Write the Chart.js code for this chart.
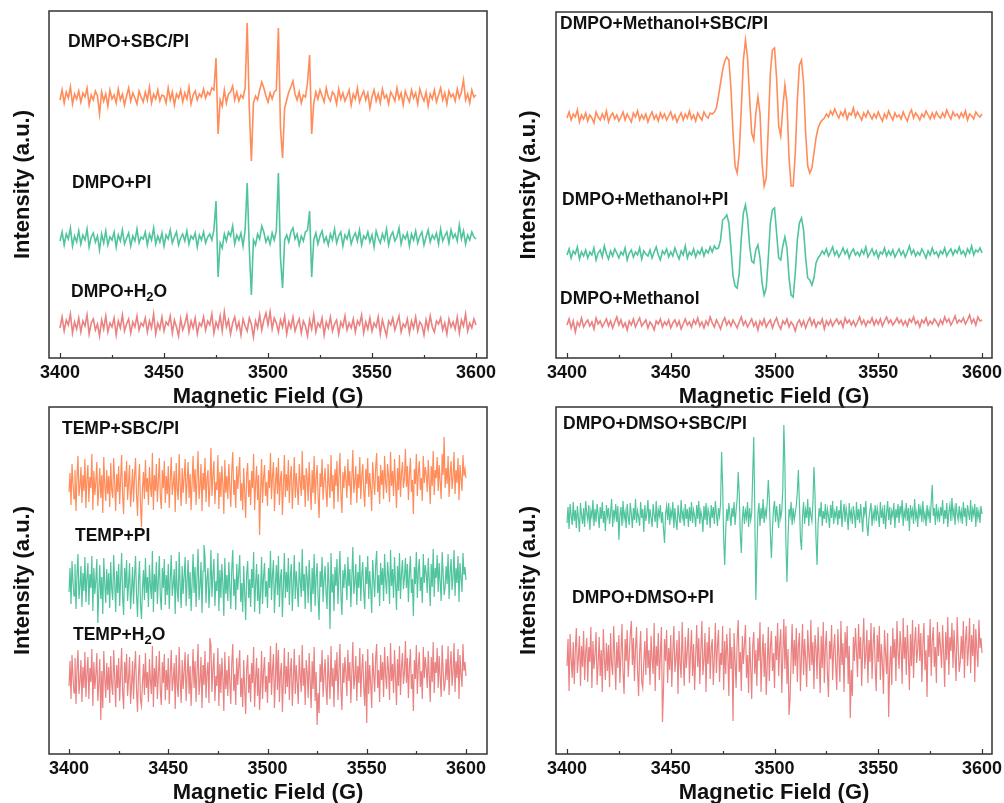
<!DOCTYPE html>
<html lang="en">
<head>
<meta charset="UTF-8">
<title>EPR spectra</title>
<script src="https://cdn.jsdelivr.net/npm/chart.js"></script>
<style>
  html, body { margin: 0; padding: 0; background: #fff; overflow: hidden; }
  body { width: 1004px; height: 803px; position: relative; }
  canvas { position: absolute; }
</style>
</head>
<body>
<canvas id="tl" width="500" height="410" style="left:0;top:0"></canvas>
<canvas id="tr" width="504" height="410" style="left:500px;top:0"></canvas>
<canvas id="bl" width="500" height="406" style="left:0;top:400px"></canvas>
<canvas id="br" width="504" height="406" style="left:500px;top:400px"></canvas>
<script>
// field axis: spectra start at 3400 G; top panels every 1 G, bottom panels every 0.5 G
const fieldStart = 3400;
const xTicks = [3400, 3450, 3500, 3550, 3600];
const xMinorTicks = [3425, 3475, 3525, 3575];

// ---- top left (201 points, 1 G) ----
const dmpoSbcPi = [
  258, 268, 255, 266, 260, 271, 254, 264, 259, 267,
  256, 265, 261, 270, 253, 263, 258, 267, 262, 244,
  266, 257, 264, 252, 268, 259, 263, 255, 269, 258,
  264, 253, 262, 270, 257, 265, 260, 254, 267, 261,
  256, 266, 258, 271, 255, 264, 259, 268, 257, 263,
  262, 255, 270, 258, 266, 253, 264, 260, 268, 256,
  265, 259, 271, 254, 263, 267, 258, 264, 261, 269,
  260, 266, 263, 270, 268, 300, 224, 258, 252, 268,
  255, 264, 266, 272, 258, 266, 257, 263, 260, 270,
  335, 250, 197, 255, 262, 258, 268, 276, 270, 262,
  256, 265, 259, 266, 268, 330, 230, 200, 250, 258,
  266, 271, 277, 264, 258, 266, 255, 263, 261, 275,
  303, 224, 255, 266, 259, 268, 262, 256, 270, 261,
  257, 266, 263, 254, 269, 259, 265, 257, 262, 268,
  253, 264, 259, 270, 256, 262, 267, 258, 265, 250,
  261, 268, 257, 264, 255, 269, 260, 263, 254, 266,
  262, 257, 270, 259, 265, 253, 267, 261, 256, 268,
  260, 265, 254, 269, 262, 257, 266, 252, 264, 259,
  268, 256, 263, 270, 258, 265, 254, 267, 261, 264,
  257, 269, 260, 266, 278, 258, 264, 255, 268, 261,
  263
];
const dmpoPi = [
  117, 126, 113, 124, 119, 130, 112, 122, 116, 127,
  114, 123, 118, 129, 111, 121, 125, 116, 122, 108,
  124, 115, 127, 113, 121, 118, 126, 111, 123, 117,
  128, 114, 120, 125, 112, 122, 117, 129, 115, 121,
  119, 126, 113, 124, 118, 130, 114, 122, 116, 125,
  112, 123, 119, 128, 115, 121, 126, 113, 120, 124,
  117, 127, 114, 122, 119, 125, 111, 123, 118, 126,
  115, 121, 124, 118, 128, 157, 81, 115, 110, 124,
  117, 126, 122, 132, 114, 123, 118, 125, 112, 128,
  175, 110, 63, 118, 113, 124, 119, 132, 126, 116,
  121, 114, 125, 118, 127, 185, 100, 70, 118, 123,
  116, 126, 130, 119, 124, 113, 122, 117, 126, 128,
  147, 81, 118, 125, 114, 122, 127, 116, 121, 113,
  124, 118, 129, 115, 122, 126, 112, 123, 119, 127,
  114, 121, 125, 117, 128, 113, 122, 119, 126, 116,
  123, 111, 127, 120, 115, 124, 118, 129, 113, 122,
  126, 117, 121, 130, 114, 123, 119, 125, 112, 124,
  118, 127, 115, 122, 126, 113, 121, 128, 116, 123,
  119, 125, 114, 129, 117, 122, 126, 115, 128, 120,
  124, 117, 133, 119, 127, 114, 123, 118, 126, 121,
  119
];
const dmpoH2o = [
  30, 41, 27, 38, 33, 44, 25, 36, 29, 40,
  26, 37, 32, 43, 24, 35, 39, 28, 34, 22,
  38, 29, 42, 26, 35, 31, 40, 23, 37, 30,
  43, 27, 34, 39, 25, 36, 31, 42, 28, 35,
  32, 40, 26, 37, 30, 44, 24, 35, 29, 41,
  27, 36, 33, 42, 25, 38, 31, 22, 39, 28,
  34, 43, 26, 37, 30, 40, 24, 35, 32, 41,
  28, 37, 33, 44, 25, 36, 30, 42, 27, 46,
  31, 38, 24, 35, 41, 29, 36, 23, 39, 32,
  27, 40, 34, 21, 37, 30, 43, 28, 38, 45,
  33, 46, 29, 40, 35, 26, 38, 31, 42, 24,
  36, 30, 41, 27, 34, 39, 25, 37, 32, 22,
  38, 29, 43, 26, 35, 31, 40, 23, 36, 30,
  41, 27, 34, 38, 24, 36, 31, 42, 28, 35,
  30, 39, 26, 37, 33, 43, 25, 36, 29, 40,
  27, 35, 31, 41, 24, 38, 30, 22, 37, 33,
  40, 28, 35, 42, 26, 34, 31, 39, 25, 37,
  30, 41, 27, 36, 33, 23, 38, 29, 42, 31,
  26, 37, 34, 40, 28, 35, 24, 39, 31, 36,
  29, 41, 25, 38, 32, 44, 27, 35, 30, 39,
  33
];

// ---- top right (201 points, 1 G) ----
const methSbcPi = [
  240, 246, 238, 244, 241, 248, 236, 243, 239, 245,
  237, 243, 240, 235, 246, 241, 238, 244, 239, 247,
  236, 242, 245, 239, 243, 237, 241, 246, 238, 244,
  240, 236, 245, 241, 247, 238, 243, 239, 244, 236,
  242, 246, 239, 243, 237, 245, 240, 244, 238, 242,
  246, 239, 243, 236, 241, 245, 238, 244, 240, 247,
  239, 243, 237, 245, 241, 238, 246, 242, 240, 245,
  244, 246, 250, 262, 275, 288, 297, 301, 298, 270,
  225, 192, 185, 205, 250, 298, 318, 300, 260, 225,
  218, 245, 261, 245, 195, 172, 180, 230, 285, 308,
  310, 280, 232, 222, 250, 273, 255, 200, 172, 172,
  205, 258, 293, 298, 275, 225, 192, 185, 190, 205,
  220, 230, 235, 238, 240, 244, 241, 247, 243, 249,
  244, 240, 246, 242, 248, 239, 245, 243, 250, 241,
  246, 242, 238, 245, 241, 247, 243, 239, 244, 240,
  246, 241, 237, 244, 240, 247, 242, 238, 245, 241,
  243, 239, 246, 241, 237, 244, 248, 240, 245, 242,
  238, 244, 241, 247, 243, 239, 245, 240, 246, 242,
  240, 245, 241, 248, 243, 239, 246, 242, 244, 240,
  245, 241, 247, 238, 244, 242, 239, 246, 243, 241,
  244
];
const methPi = [
  103, 109, 100, 107, 104, 111, 99, 106, 102, 108,
  100, 106, 103, 110, 98, 105, 108, 101, 112, 104,
  99, 107, 102, 109, 105, 100, 106, 103, 110, 98,
  105, 108, 101, 106, 103, 110, 99, 107, 104, 102,
  108, 100, 106, 111, 103, 98, 107, 104, 109, 101,
  106, 102, 110, 104, 99, 107, 103, 112, 100, 106,
  103, 109, 101, 107, 104, 110, 102, 108, 105, 111,
  106, 112, 109, 110, 118, 138, 140, 143, 135, 110,
  82, 72, 70, 85, 120, 145, 153, 140, 112, 97,
  95, 108, 113, 100, 75, 63, 70, 100, 135, 148,
  150, 125, 100, 98, 112, 121, 110, 80, 63, 61,
  85, 118, 135, 140, 128, 100, 80, 78, 73, 80,
  95, 100, 103, 107, 104, 109, 102, 106, 111, 103,
  107, 101, 105, 110, 104, 108, 100, 106, 109, 103,
  106, 102, 108, 104, 111, 101, 105, 109, 103, 107,
  100, 106, 104, 110, 102, 107, 103, 108, 101, 105,
  109, 103, 107, 101, 106, 112, 104, 108, 102, 106,
  103, 109, 105, 100, 107, 103, 110, 104, 106, 101,
  107, 104, 110, 102, 106, 109, 103, 108, 105, 111,
  104, 107, 102, 109, 105, 112, 103, 108, 106, 110,
  105
];
const methOnly = [
  33, 39, 30, 37, 26, 36, 32, 40, 31, 35,
  38, 32, 36, 29, 40, 34, 37, 31, 35, 39,
  32, 37, 30, 36, 41, 33, 38, 31, 35, 28,
  37, 33, 39, 31, 36, 40, 32, 35, 38, 30,
  36, 33, 28, 37, 34, 39, 31, 36, 33, 38,
  30, 35, 38, 32, 37, 29, 34, 39, 33, 36,
  31, 38, 34, 40, 32, 36, 30, 37, 33, 41,
  35, 31, 38, 34, 29, 36, 40, 33, 37, 32,
  38, 34, 30, 36, 41, 33, 37, 31, 35, 39,
  32, 36, 28, 37, 33, 39, 31, 35, 38, 30,
  36, 40, 33, 29, 37, 34, 39, 31, 36, 33,
  27, 35, 38, 32, 37, 30, 36, 40, 33, 38,
  31, 36, 34, 39, 29, 37, 33, 38, 32, 36,
  39, 34, 37, 31, 40, 35, 38, 33, 37, 32,
  36, 41, 34, 38, 32, 37, 35, 40, 33, 38,
  34, 39, 32, 37, 41, 35, 38, 33, 36, 40,
  35, 38, 33, 37, 32, 39, 36, 41, 34, 37,
  31, 38, 35, 40, 33, 37, 34, 39, 36, 32,
  38, 34, 41, 36, 39, 33, 37, 42, 35, 38,
  36, 40, 34, 38, 43, 35, 39, 33, 41, 37,
  38
];

// ---- bottom left (401 points, 0.5 G) ----
const tempSbcPi = [
  262, 281, 249, 290, 270, 255, 284, 243, 276, 298, 258, 268, 287, 251, 279, 263, 295, 246, 274, 289,
  252, 277, 266, 300, 244, 283, 259, 272, 292, 248, 265, 286, 256, 279, 241, 297, 269, 253, 284, 260,
  278, 247, 291, 264, 256, 296, 271, 243, 280, 262, 288, 250, 275, 299, 258, 240, 283, 267, 293, 254,
  271, 289, 247, 265, 285, 252, 278, 296, 260, 238, 273, 290, 250, 227, 266, 282, 255, 294, 262, 276,
  249, 287, 268, 257, 301, 244, 279, 263, 290, 252, 272, 296, 258, 245, 284, 266, 293, 251, 278, 260,
  288, 246, 274, 297, 259, 270, 283, 242, 291, 265, 254, 300, 268, 248, 286, 261, 277, 295, 250, 273,
  292, 256, 280, 244, 271, 298, 262, 285, 249, 276, 303, 255, 268, 290, 243, 281, 264, 296, 252, 275,
  284, 247, 269, 306, 258, 279, 293, 250, 272, 264, 299, 245, 282, 257, 288, 270, 240, 294, 261, 278,
  255, 290, 267, 247, 283, 302, 259, 274, 246, 288, 265, 280, 297, 253, 271, 244, 286, 262, 236, 279,
  291, 257, 274, 249, 283, 266, 300, 244, 270, 288, 254, 279, 219, 262, 295, 251, 276, 289, 258, 272,
  248, 284, 266, 301, 255, 278, 292, 243, 270, 287, 260, 296, 249, 275, 283, 239, 268, 299, 257, 280,
  263, 294, 251, 277, 288, 245, 270, 297, 256, 281, 266, 249, 290, 272, 258, 303, 264, 279, 247, 286,
  275, 253, 292, 268, 244, 284, 261, 298, 250, 276, 289, 257, 236, 281, 267, 295, 254, 273, 286, 262,
  247, 290, 270, 256, 299, 263, 279, 245, 285, 268, 293, 252, 277, 301, 259, 241, 282, 266, 288, 274,
  256, 295, 268, 283, 249, 276, 304, 261, 272, 288, 251, 280, 266, 297, 255, 278, 290, 263, 247, 285,
  270, 296, 257, 281, 265, 243, 292, 274, 259, 287, 301, 262, 278, 250, 289, 269, 284, 255, 298, 273,
  261, 290, 277, 252, 302, 268, 283, 258, 295, 271, 246, 286, 264, 299, 257, 280, 292, 266, 276, 305,
  267, 288, 254, 279, 296, 262, 274, 240, 285, 270, 300, 258, 281, 293, 264, 276, 253, 298, 271, 287,
  279, 262, 294, 273, 250, 288, 268, 303, 259, 284, 276, 297, 263, 289, 272, 255, 300, 279, 317, 266,
  286, 270, 298, 257, 281, 293, 265, 277, 302, 260, 284, 271, 296, 254, 289, 275, 263, 299, 278, 285,
  276
];
const tempPi = [
  162, 186, 150, 193, 171, 158, 190, 145, 179, 200, 155, 168, 188, 147, 181, 163, 197, 152, 176, 191,
  149, 180, 166, 198, 143, 186, 160, 174, 195, 131, 164, 189, 155, 177, 140, 196, 170, 151, 185, 159,
  181, 146, 192, 165, 154, 199, 172, 142, 183, 161, 190, 148, 175, 201, 157, 139, 186, 166, 194, 153,
  171, 191, 145, 164, 187, 150, 178, 198, 159, 137, 173, 193, 149, 135, 166, 184, 154, 196, 161, 177,
  147, 189, 168, 155, 203, 142, 180, 162, 192, 150, 173, 198, 157, 144, 186, 166, 195, 149, 179, 159,
  190, 145, 175, 199, 158, 170, 185, 140, 193, 164, 152, 202, 168, 146, 188, 160, 178, 197, 148, 174,
  194, 155, 182, 143, 171, 200, 161, 187, 147, 177, 205, 154, 168, 192, 141, 183, 209, 198, 151, 176,
  186, 146, 169, 204, 157, 180, 195, 148, 173, 163, 201, 143, 184, 156, 190, 170, 138, 196, 160, 179,
  153, 192, 167, 145, 185, 204, 158, 175, 144, 190, 164, 181, 199, 152, 171, 142, 188, 161, 134, 180,
  193, 156, 175, 147, 185, 166, 202, 142, 170, 190, 153, 180, 140, 161, 197, 150, 177, 191, 157, 173,
  146, 186, 166, 203, 154, 179, 194, 141, 170, 189, 159, 198, 147, 176, 185, 137, 168, 201, 156, 182,
  162, 196, 149, 178, 190, 143, 170, 199, 155, 183, 166, 147, 192, 173, 157, 205, 163, 180, 145, 188,
  176, 151, 194, 168, 142, 186, 160, 200, 148, 177, 191, 156, 134, 183, 167, 197, 152, 174, 188, 161,
  145, 192, 170, 125, 201, 162, 180, 143, 187, 168, 195, 150, 178, 203, 158, 139, 184, 166, 190, 175,
  154, 197, 168, 185, 147, 177, 207, 160, 172, 190, 149, 182, 166, 199, 153, 179, 192, 162, 145, 187,
  170, 198, 155, 183, 165, 141, 194, 175, 157, 189, 203, 161, 179, 148, 191, 169, 186, 153, 200, 174,
  160, 192, 178, 150, 204, 168, 185, 156, 197, 171, 144, 188, 163, 201, 155, 181, 194, 165, 177, 196,
  166, 190, 152, 180, 198, 161, 175, 138, 187, 170, 202, 156, 183, 195, 163, 177, 151, 200, 171, 189,
  180, 161, 196, 173, 148, 190, 167, 205, 157, 186, 176, 199, 162, 191, 172, 153, 202, 180, 159, 167,
  188, 170, 200, 155, 182, 195, 164, 178, 204, 158, 186, 171, 198, 152, 191, 176, 162, 201, 179, 187,
  174
];
const tempH2o = [
  68, 93, 55, 99, 77, 61, 96, 50, 85, 104, 60, 73, 94, 52, 87, 66, 102, 57, 81, 97,
  55, 86, 72, 105, 48, 92, 65, 79, 101, 53, 70, 95, 34, 83, 46, 103, 76, 56, 91, 64,
  87, 51, 98, 70, 59, 104, 77, 47, 89, 66, 96, 53, 80, 106, 62, 45, 92, 71, 100, 58,
  76, 97, 50, 69, 93, 55, 84, 103, 64, 42, 79, 99, 54, 48, 71, 90, 59, 101, 66, 82,
  52, 95, 73, 60, 108, 47, 86, 67, 98, 55, 78, 103, 62, 49, 92, 71, 100, 54, 84, 64,
  96, 50, 80, 104, 63, 75, 91, 45, 99, 69, 57, 107, 73, 51, 94, 65, 83, 102, 53, 79,
  100, 60, 88, 48, 76, 105, 66, 93, 52, 82, 110, 59, 73, 97, 46, 89, 69, 103, 56, 81,
  92, 51, 116, 109, 62, 85, 101, 53, 78, 68, 106, 48, 90, 61, 96, 75, 43, 102, 65, 84,
  58, 98, 72, 50, 91, 110, 63, 80, 49, 96, 69, 87, 104, 57, 76, 47, 94, 66, 40, 85,
  99, 61, 80, 52, 91, 71, 107, 47, 75, 96, 58, 86, 44, 67, 103, 55, 82, 97, 62, 78,
  51, 92, 71, 108, 59, 84, 100, 46, 75, 111, 64, 104, 52, 81, 91, 42, 73, 106, 60, 88,
  67, 102, 54, 83, 96, 48, 75, 105, 60, 89, 71, 50, 99, 78, 62, 109, 68, 86, 49, 94,
  81, 56, 101, 73, 46, 93, 65, 107, 53, 82, 29, 61, 41, 90, 72, 104, 57, 79, 95, 66,
  49, 99, 76, 55, 108, 68, 86, 47, 94, 73, 102, 54, 83, 110, 63, 44, 91, 71, 97, 80,
  58, 104, 73, 92, 51, 82, 112, 65, 77, 98, 53, 88, 71, 106, 57, 84, 100, 67, 48, 93,
  31, 105, 60, 89, 70, 46, 101, 80, 62, 96, 110, 66, 84, 52, 99, 74, 92, 57, 107, 79,
  65, 98, 83, 54, 111, 73, 90, 61, 104, 77, 49, 95, 68, 108, 59, 86, 101, 70, 82, 113,
  71, 96, 56, 86, 105, 65, 80, 43, 94, 75, 109, 60, 88, 102, 67, 83, 55, 107, 76, 97,
  85, 66, 103, 78, 52, 97, 72, 112, 61, 92, 81, 106, 66, 98, 77, 57, 109, 84, 63, 71,
  95, 74, 108, 59, 89, 103, 68, 83, 111, 62, 93, 76, 105, 55, 99, 80, 67, 110, 83, 92,
  78
];

// ---- bottom right (401 points, 0.5 G) ----
const dmsoSbcPi = [
  231, 247, 225, 250, 238, 229, 252, 233, 244, 226, 248, 236, 222, 251, 239, 230, 246, 227, 253, 241,
  234, 249, 224, 243, 237, 254, 228, 245, 232, 250, 240, 226, 247, 235, 252, 231, 243, 223, 249, 238,
  246, 230, 241, 255, 227, 244, 236, 250, 232, 248, 214, 239, 247, 228, 253, 235, 242, 226, 250, 237,
  229, 251, 240, 226, 246, 234, 255, 231, 243, 237, 228, 252, 236, 245, 222, 249, 233, 241, 254, 230,
  245, 236, 227, 250, 239, 232, 253, 226, 244, 238, 249, 231, 242, 225, 211, 240, 248, 234, 251, 229,
  243, 237, 252, 226, 246, 233, 224, 249, 238, 231, 254, 236, 242, 228, 250, 235, 245, 227, 247, 233,
  252, 231, 244, 238, 227, 249, 235, 253, 230, 243, 237, 222, 248, 234, 251, 229, 245, 240, 226, 249,
  236, 247, 230, 253, 240, 228, 246, 238, 250, 302, 268, 215, 189, 225, 245, 233, 251, 239, 228, 246,
  237, 252, 229, 244, 255, 282, 260, 220, 201, 235, 248, 230, 243, 236, 252, 227, 246, 234, 241, 280,
  317, 240, 154, 200, 240, 251, 228, 246, 235, 255, 231, 244, 238, 252, 274, 255, 220, 196, 225, 245,
  253, 232, 248, 237, 226, 250, 236, 243, 265, 329, 290, 210, 172, 215, 245, 238, 252, 229, 246, 234,
  241, 249, 262, 284, 250, 215, 204, 238, 252, 230, 244, 236, 255, 228, 247, 239, 233, 251, 287, 260,
  215, 189, 230, 246, 237, 252, 228, 243, 235, 250, 231, 245, 238, 226, 249, 236, 253, 230, 242, 237,
  248, 229, 244, 235, 254, 227, 241, 250, 232, 246, 238, 224, 251, 236, 243, 230, 248, 239, 226, 252,
  234, 245, 231, 250, 237, 222, 247, 240, 253, 229, 218, 236, 244, 251, 228, 242, 235, 249, 233, 246,
  239, 227, 252, 236, 244, 230, 249, 225, 241, 253, 234, 247, 229, 243, 238, 251, 226, 245, 236, 250,
  231, 248, 240, 254, 228, 243, 237, 251, 233, 246, 223, 249, 238, 244, 230, 255, 236, 242, 227, 250,
  239, 246, 232, 253, 235, 241, 228, 249, 237, 244, 231, 252, 269, 238, 246, 229, 250, 236, 243, 232,
  247, 238, 254, 230, 244, 235, 251, 227, 242, 249, 233, 256, 238, 245, 229, 251, 240, 234, 248, 236,
  243, 230, 252, 237, 246, 228, 249, 241, 234, 254, 232, 245, 239, 250, 227, 247, 236, 243, 231, 248,
  240
];
const dmsoPi = [
  88, 115, 63, 120, 95, 76, 112, 70, 104, 126, 81, 97, 118, 68, 108, 87, 123, 74, 101, 116,
  72, 107, 92, 127, 66, 113, 85, 99, 122, 69, 90, 117, 78, 104, 62, 125, 96, 74, 111, 83,
  109, 67, 121, 90, 79, 128, 98, 64, 112, 86, 119, 71, 100, 130, 82, 60, 115, 93, 124, 77,
  98, 120, 133, 89, 116, 73, 105, 127, 84, 58, 101, 123, 72, 66, 92, 113, 79, 126, 86, 104,
  69, 118, 95, 80, 131, 63, 108, 88, 121, 74, 100, 127, 32, 65, 115, 93, 124, 71, 106, 84,
  119, 67, 103, 128, 82, 96, 114, 60, 123, 90, 76, 132, 95, 68, 117, 86, 105, 126, 71, 101,
  124, 78, 110, 64, 97, 129, 87, 116, 70, 104, 133, 79, 94, 121, 62, 112, 90, 127, 75, 106,
  115, 69, 96, 131, 81, 108, 124, 72, 101, 89, 128, 64, 113, 80, 120, 98, 58, 126, 85, 107,
  33, 121, 93, 66, 114, 134, 82, 102, 63, 118, 90, 110, 129, 76, 99, 61, 117, 87, 55, 108,
  122, 80, 104, 68, 116, 93, 132, 62, 98, 120, 77, 111, 59, 89, 127, 73, 106, 123, 83, 101,
  66, 118, 94, 131, 78, 109, 125, 61, 99, 135, 85, 128, 70, 105, 39, 56, 96, 130, 80, 114,
  88, 126, 72, 108, 121, 63, 99, 130, 79, 115, 94, 67, 124, 101, 83, 134, 89, 112, 65, 119,
  106, 75, 127, 96, 61, 118, 86, 132, 71, 107, 123, 80, 57, 113, 95, 129, 74, 104, 120, 87,
  64, 125, 99, 72, 133, 89, 111, 62, 122, 96, 128, 70, 108, 36, 84, 58, 117, 93, 126, 103,
  77, 130, 95, 117, 68, 106, 136, 85, 100, 124, 71, 114, 92, 131, 75, 109, 127, 88, 63, 119,
  92, 128, 74, 110, 90, 60, 124, 101, 80, 121, 37, 86, 108, 69, 126, 96, 115, 73, 133, 102,
  85, 123, 107, 70, 136, 95, 117, 79, 129, 100, 64, 120, 88, 134, 76, 111, 127, 91, 105, 130,
  93, 121, 72, 110, 131, 84, 104, 57, 119, 97, 135, 78, 113, 127, 87, 107, 71, 132, 98, 122,
  106, 86, 129, 101, 67, 122, 94, 137, 79, 117, 103, 131, 86, 124, 99, 73, 137, 108, 82, 92,
  118, 95, 133, 76, 113, 128, 88, 107, 136, 81, 119, 98, 130, 72, 125, 104, 87, 134, 106, 116,
  101
];

const orange = '#ff8c5a';
const green = '#50c49e';
const pink = '#eb8282';
const fontFamily = "'Liberation Sans', Arial, sans-serif";

const panels = [
  {
    id: 'tl', xMin: 3394.7, xMax: 3605.3, yMax: 347, step: 1, lineWidth: 1.6,
    padding: { left: 0, right: 13, top: 11, bottom: 0 }, yWidth: 49, xHeight: 52, yTitlePad: 10,
    series: [[dmpoSbcPi, orange], [dmpoPi, green], [dmpoH2o, pink]],
    notes: [
      { parts: ['DMPO+SBC/PI'], x: 68, y: 42 },
      { parts: ['DMPO+PI'], x: 72, y: 183 },
      { parts: ['DMPO+H', '2', 'O'], x: 71, y: 292 }
    ]
  },
  {
    id: 'tr', xMin: 3394.7, xMax: 3604.8, yMax: 346, step: 1, lineWidth: 1.6,
    padding: { left: 0, right: 12, top: 12, bottom: 0 }, yWidth: 56, xHeight: 52, yTitlePad: 16,
    series: [[methSbcPi, orange], [methPi, green], [methOnly, pink]],
    notes: [
      { parts: ['DMPO+Methanol+SBC/PI'], x: 60, y: 24 },
      { parts: ['DMPO+Methanol+PI'], x: 62, y: 200 },
      { parts: ['DMPO+Methanol'], x: 60, y: 299 }
    ]
  },
  {
    id: 'bl', xMin: 3389.9, xMax: 3610.6, yMax: 347, step: 0.5, lineWidth: 1.2,
    padding: { left: 0, right: 13, top: 7, bottom: 0 }, yWidth: 49, xHeight: 52, yTitlePad: 10,
    series: [[tempSbcPi, orange], [tempPi, green], [tempH2o, pink]],
    notes: [
      { parts: ['TEMP+SBC/PI'], x: 62, y: 29 },
      { parts: ['TEMP+PI'], x: 75, y: 136 },
      { parts: ['TEMP+H', '2', 'O'], x: 73, y: 235 }
    ]
  },
  {
    id: 'br', xMin: 3394.7, xMax: 3604.8, yMax: 347, step: 0.5, lineWidth: 1.2,
    padding: { left: 0, right: 12, top: 7, bottom: 0 }, yWidth: 56, xHeight: 52, yTitlePad: 16,
    series: [[dmsoSbcPi, green], [dmsoPi, pink]],
    notes: [
      { parts: ['DMPO+DMSO+SBC/PI'], x: 63, y: 24 },
      { parts: ['DMPO+DMSO+PI'], x: 72, y: 198 }
    ]
  }
];

// box, inward ticks and the in-plot sample labels
const framePlugin = {
  id: 'frame',
  afterDatasetsDraw(chart) {
    const { ctx, chartArea: a } = chart;
    const x = chart.scales.x;
    ctx.save();
    ctx.strokeStyle = '#333';
    ctx.lineWidth = 1.5;
    ctx.strokeRect(a.left, a.top, a.right - a.left, a.bottom - a.top);
    ctx.beginPath();
    xTicks.forEach(v => {
      const px = Math.round(x.getPixelForValue(v)) + 0.5;
      ctx.moveTo(px, a.bottom);
      ctx.lineTo(px, a.bottom - 5);
    });
    xMinorTicks.forEach(v => {
      const px = Math.round(x.getPixelForValue(v)) + 0.5;
      ctx.moveTo(px, a.bottom);
      ctx.lineTo(px, a.bottom - 3);
    });
    ctx.lineWidth = 1.2;
    ctx.stroke();

    ctx.fillStyle = '#111';
    ctx.textBaseline = 'middle';
    chart.options.plugins.frame.notes.forEach(n => {
      let cx = n.x;
      n.parts.forEach((t, i) => {
        const sub = i === 1;
        ctx.font = 'bold ' + (sub ? 13 : 17.5) + 'px ' + fontFamily;
        ctx.fillText(t, cx, n.y + (sub ? 5 : 0));
        cx += ctx.measureText(t).width;
      });
    });
    ctx.restore();
  }
};

panels.forEach(p => {
  new Chart(document.getElementById(p.id), {
    type: 'line',
    data: {
      datasets: p.series.map(([values, color]) => ({
        data: values.map((v, i) => ({ x: fieldStart + i * p.step, y: v })),
        borderColor: color,
        borderWidth: p.lineWidth,
        pointRadius: 0,
        tension: 0,
        fill: false
      }))
    },
    options: {
      responsive: false,
      animation: false,
      devicePixelRatio: 1,
      layout: { padding: p.padding },
      plugins: {
        legend: { display: false },
        tooltip: { enabled: false },
        frame: { notes: p.notes }
      },
      scales: {
        x: {
          type: 'linear',
          min: p.xMin,
          max: p.xMax,
          grid: { display: false, drawTicks: false },
          border: { display: false },
          ticks: {
            padding: 4,
            color: '#111',
            font: { family: fontFamily, size: 18, weight: 'bold' },
            maxRotation: 0,
            callback: v => String(v)
          },
          afterBuildTicks: s => { s.ticks = xTicks.map(v => ({ value: v })); },
          afterFit: s => { s.height = p.xHeight; s.paddingLeft = 0; s.paddingRight = 0; },
          title: {
            display: true,
            text: 'Magnetic Field (G)',
            color: '#111',
            padding: 0,
            font: { family: fontFamily, size: 22, weight: 'bold' }
          }
        },
        y: {
          min: 0,
          max: p.yMax,
          grid: { display: false, drawTicks: false },
          border: { display: false },
          ticks: { display: false },
          afterFit: s => { s.width = p.yWidth; },
          title: {
            display: true,
            text: 'Intensity (a.u.)',
            color: '#111',
            padding: { top: p.yTitlePad, bottom: 0 },
            font: { family: fontFamily, size: 22, weight: 'bold' }
          }
        }
      }
    },
    plugins: [framePlugin]
  });
});
</script>
</body>
</html>
